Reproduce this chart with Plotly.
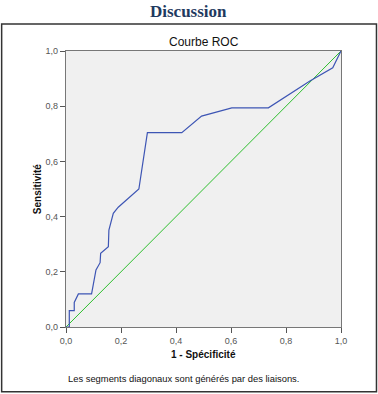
import plotly.graph_objects as go

fpr = [0.0, 0.012, 0.012, 0.03, 0.03, 0.045, 0.093, 0.109, 0.124, 0.126, 0.154, 0.156,
       0.172, 0.19, 0.265, 0.296, 0.421, 0.493, 0.603, 0.736, 0.887, 0.97, 1.0]
tpr = [0.0, 0.0, 0.059, 0.059, 0.089, 0.12, 0.12, 0.207, 0.233, 0.267, 0.291, 0.351,
       0.412, 0.434, 0.5, 0.704, 0.704, 0.764, 0.794, 0.794, 0.891, 0.939, 1.0]
ref_x = [0.0, 1.0]
ref_y = [0.0, 1.0]
tick_vals = [0.0, 0.2, 0.4, 0.6, 0.8, 1.0]
tick_text = ["0,0", "0,2", "0,4", "0,6", "0,8", "1,0"]

fig = go.Figure()
fig.add_trace(go.Scatter(x=ref_x, y=ref_y, mode="lines",
                         line=dict(color="#2DBE2D", width=1), hoverinfo="skip"))
fig.add_trace(go.Scatter(x=fpr, y=tpr, mode="lines",
                         line=dict(color="#3D55B4", width=1.2)))

axis_common = dict(range=[0, 1], tickvals=tick_vals, ticktext=tick_text,
                   ticks="outside", ticklen=5, tickcolor="#555",
                   showline=True, linecolor="#777", linewidth=1.3, mirror=True,
                   showgrid=False, zeroline=False,
                   tickfont=dict(family="Liberation Sans, Arial", size=9, color="#555"))

def ann(text, x, y, size, family="Liberation Sans, Arial", color="#111", **kw):
    d = dict(text=text, xref="paper", yref="paper", x=x, y=y, showarrow=False,
             xanchor="center", yanchor="middle",
             font=dict(family=family, size=size, color=color))
    d.update(kw)
    return d

fig.update_layout(
    width=378, height=394,
    margin=dict(l=66, r=37, t=51, b=67),
    paper_bgcolor="white", plot_bgcolor="#F0F0F0",
    showlegend=False,
    xaxis=axis_common,
    yaxis=axis_common,
    shapes=[dict(type="rect", xref="paper", yref="paper",
                 x0=-0.234, x1=1.129, y0=-0.235, y1=1.098,
                 line=dict(color="#333", width=1.5), layer="below")],
    annotations=[
        ann("<b>Discussion</b>", 0.447, 1.1848, 17,
            family="Liberation Serif, Times New Roman", color="#1F3A60", yanchor="top"),
        ann("Courbe ROC", 0.5, 1.033, 12),
        ann("<b>Sensitivité</b>", -0.105, 0.5, 10, textangle=-90),
        ann("<b>1 - Spécificité</b>", 0.5, -0.098, 10),
        ann("Les segments diagonaux sont générés par des liaisons.", 0.0, -0.185, 9.4,
            xanchor="left"),
    ],
)

fig.write_html("out.html", config={"displayModeBar": False},
               post_script="document.body.style.margin='0';")
